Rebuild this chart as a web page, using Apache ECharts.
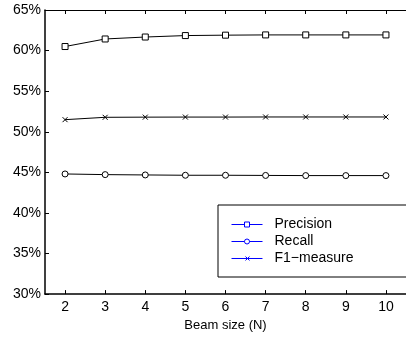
<!DOCTYPE html>
<html>
<head>
<meta charset="utf-8">
<script src="https://cdn.jsdelivr.net/npm/echarts@6/dist/echarts.min.js"></script>
<style>
html,body{margin:0;padding:0;background:#fff;}
#c{width:406px;height:337px;}
</style>
</head>
<body>
<div id="c"></div>
<script>
var beamSizes = [2, 3, 4, 5, 6, 7, 8, 9, 10];
var precision = [60.5, 61.43, 61.67, 61.85, 61.9, 61.93, 61.93, 61.93, 61.93];
var recall = [44.8, 44.72, 44.68, 44.64, 44.64, 44.62, 44.6, 44.6, 44.6];
var f1 = [51.49, 51.78, 51.8, 51.81, 51.81, 51.82, 51.82, 51.82, 51.82];
var seriesNames = ['Precision', 'Recall', 'F1\u2212measure'];
var xName = 'Beam size (N)';

function pairs(vals){ return beamSizes.map(function(x,i){ return [x, vals[i]]; }); }

var FONT = 'Liberation Sans, Arial, sans-serif';
var xPath = 'path://M0,0L10,10M10,0L0,10';
var symbols = ['rect', 'circle', xPath];
var sizes = [6, 6, 5];
var vals = [precision, recall, f1];
var legendIcons = [
  'path://M0,3L13,3M18,3L31,3M13,0.5L18,0.5L18,5.5L13,5.5Z',
  'path://M0,3L13,3M18,3L31,3M18,3A2.5,2.5 0 1 1 13,3A2.5,2.5 0 1 1 18,3Z',
  'path://M0,3L31,3M14,1L18,5M18,1L14,5M0,0L0,0.01M31,6L31,6.01'
];
var legendColor = '#0000ff';

var chart = echarts.init(document.getElementById('c'), null, {renderer:'canvas'});
var series = vals.map(function(v, i){
  return {
    name: seriesNames[i],
    type: 'line',
    data: pairs(v),
    symbol: symbols[i],
    symbolSize: sizes[i],
    showAllSymbol: true,
    lineStyle: {color:'#000', width:1},
    itemStyle: {color: i===2 ? '#000' : '#fff', borderColor:'#000', borderWidth:1},
    emphasis: {disabled:true},
    silent: true
  };
});

chart.setOption({
  animation: false,
  textStyle: {fontFamily: FONT},
  grid: {left:45, top:10, bottom:38, right:-7.6, containLabel:false},
  xAxis: [{
    type:'value', min:1.5, max:10.5, position:'bottom',
    name: xName, nameLocation:'middle', nameGap:13,
    nameTextStyle:{color:'#000', fontSize:13, fontFamily:FONT, verticalAlign:'top'},
    axisLine:{show:true, onZero:false, lineStyle:{color:'#000', width:1.5}},
    axisTick:{show:true, inside:true, length:4, customValues: beamSizes, lineStyle:{color:'#000'}},
    axisLabel:{color:'#000', fontSize:14, margin:6, customValues: beamSizes, fontFamily:FONT},
    splitLine:{show:false}
  },{
    type:'value', min:1.5, max:10.5, position:'top',
    axisLine:{show:true, onZero:false, lineStyle:{color:'#000', width:1}},
    axisTick:{show:true, inside:true, length:4, customValues: beamSizes, lineStyle:{color:'#000'}},
    axisLabel:{show:false},
    splitLine:{show:false}
  }],
  yAxis: {
    type:'value', min:30, max:65, interval:5,
    axisLine:{show:true, onZero:false, lineStyle:{color:'#000', width:1.5}},
    axisTick:{show:true, inside:true, length:4, lineStyle:{color:'#000'}},
    axisLabel:{color:'#000', fontSize:14, margin:4, formatter:'{value}%', fontFamily:FONT},
    splitLine:{show:false}
  },
  legend: {
    orient:'vertical',
    left:218, top:205,
    padding:[12, 57, 11, 13],
    itemGap:2,
    itemWidth:31, itemHeight:6,
    backgroundColor:'#fff',
    borderColor:'#000', borderWidth:1, borderRadius:0,
    textStyle:{color:'#000', fontSize:14, fontFamily:FONT, padding:[0,0,0,7], lineHeight:15},
    selectedMode:false,
    data: seriesNames.map(function(n, i){
      return {name:n, icon: legendIcons[i],
        itemStyle:{color:'#fff', borderColor:legendColor, borderWidth:1}};
    })
  },
  series: series
});
</script>
</body>
</html>
